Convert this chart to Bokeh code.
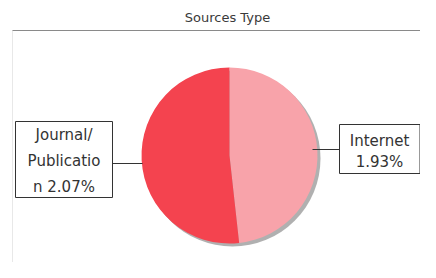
import math
from bokeh.plotting import figure
from bokeh.models import Range1d, ColumnDataSource
from bokeh.core.properties import value
from bokeh.embed import file_html
from bokeh.resources import INLINE

# ---- data ----
title = "Sources Type"
categories = ["Internet", "Journal/Publication"]
values = [1.93, 2.07]
colors = ["#F8A3AA", "#F4434F"]
label_lines = [["Internet", "1.93%"], ["Journal/", "Publicatio", "n 2.07%"]]

W, H = 420, 262
p = figure(width=W, height=H, output_backend="svg", toolbar_location=None,
           x_range=Range1d(0, W), y_range=Range1d(0, H), min_border=0)
p.axis.visible = False
p.grid.visible = False
p.outline_line_color = None
p.background_fill_color = "white"

def Y(y):  # pixel-from-top -> data
    return H - y

cx, cy, r = 229, Y(155), 88

# angles: start at 12 o'clock, clockwise
total = sum(values)
starts, ends = [], []
acc = 0.0
for v in values:
    a0 = math.pi / 2 - 2 * math.pi * acc / total
    acc += v
    a1 = math.pi / 2 - 2 * math.pi * acc / total
    starts.append(a1)
    ends.append(a0)

font = value("DejaVu Sans")

# faint frame
p.line([12, 12], [Y(30), Y(262)], line_color="#e8e8e8", line_width=1)
# title + rule
p.text([227], [Y(17)], text=[title], text_font=font,
       text_font_size="13px", text_align="center", text_baseline="middle",
       text_color="#3a3a3a")
p.line([12, W], [Y(30), Y(30)], line_color="#8a8a8a", line_width=1)

# shadow
p.circle(x=[cx + 3], y=[cy - 3], radius=r, radius_units="screen",
         fill_color="#8f8f8f", fill_alpha=0.7, line_color=None)

src = ColumnDataSource(dict(cat=categories, v=values, s=starts, e=ends, c=colors))
p.wedge(x=cx, y=cy, radius=r, radius_units="screen", start_angle="s", end_angle="e",
        fill_color="c", line_color=None, source=src)

# leader lines
p.line([312, 339], [Y(149), Y(149)], line_color="#333333", line_width=1)
p.line([112, 142], [Y(163), Y(163)], line_color="#333333", line_width=1)

# label boxes
p.quad(left=[339, 15], right=[419.5, 112], top=[Y(124), Y(121)], bottom=[Y(173), Y(197)],
       fill_color="white", line_color="#333333", line_width=1)

# right label
for i, t in enumerate(label_lines[0]):
    p.text([379], [Y(140 + 21 * i)], text=[t], text_font=font, text_font_size="15px",
           text_align="center", text_baseline="middle", text_color="#333333")
# left label
for i, t in enumerate(label_lines[1]):
    p.text([63.5], [Y(134 + 26 * i)], text=[t], text_font=font, text_font_size="15px",
           text_align="center", text_baseline="middle", text_color="#333333")

open("out.html", "w").write(file_html(p, INLINE))
